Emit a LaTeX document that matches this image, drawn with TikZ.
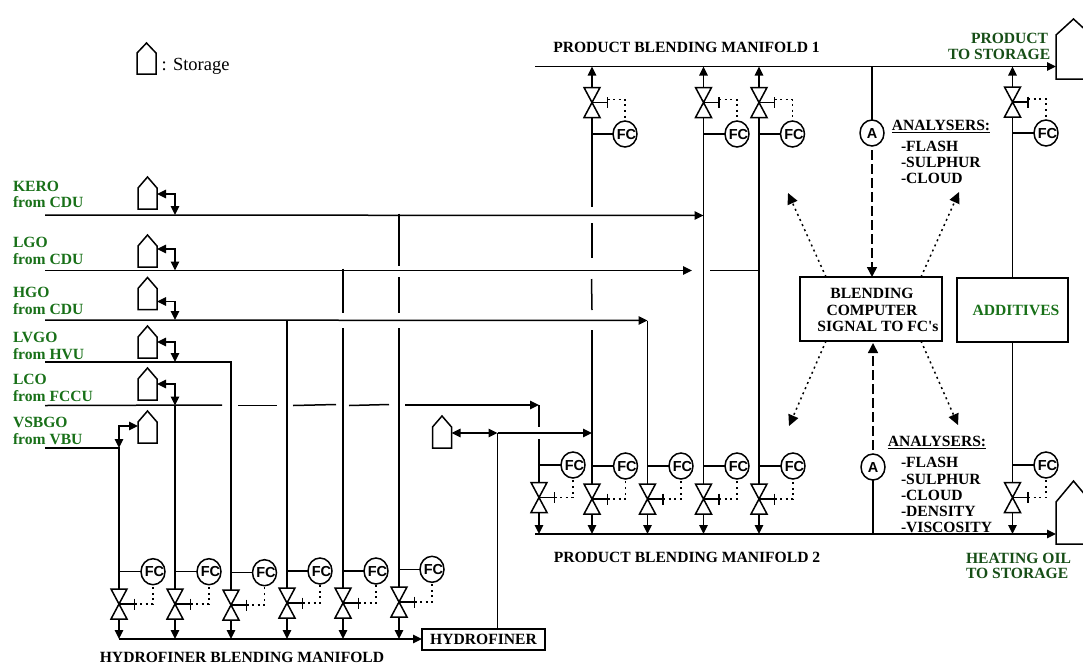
\documentclass[tikz,border=0pt]{standalone}
\usepackage{fontspec}
\setmainfont{Liberation Serif}
\setsansfont{Liberation Sans}
\usetikzlibrary{arrows.meta,shapes.geometric,calc}
\definecolor{feedgreen}{RGB}{24,112,24}
\definecolor{prodgreen}{RGB}{22,78,22}
\tikzset{
  pipe/.style={line width=1.5pt},
  arr/.style={pipe,-{Triangle[length=9pt,width=8.5pt]}},
  dbl/.style={pipe,{Triangle[length=9pt,width=8.5pt]}-{Triangle[length=9pt,width=8.5pt]}},
  sigdot/.style={line width=1.5pt,dash pattern=on 2pt off 3.6pt},
  sigdotarr/.style={sigdot,-{Triangle[length=11pt,width=10.5pt]}},
  sigdash/.style={line width=1.5pt,dash pattern=on 10pt off 4pt,-{Triangle[length=10pt,width=10pt]}},
  ctrl/.style={draw,ellipse,line width=1.5pt,minimum width=24pt,minimum height=26pt,inner sep=0pt,outer sep=0pt,
     font=\sffamily\bfseries\fontsize{14.5}{14.5}\selectfont},
  valvebody/.style={minimum width=16pt,minimum height=30pt,inner sep=0pt,outer sep=0pt},
  tankbody/.style={inner sep=0pt,outer sep=0pt},
  lbl/.style={inner sep=0pt,outer sep=0pt,font=\bfseries\fontsize{15.6}{16.6}\selectfont},
  feed/.style={lbl,text=feedgreen,align=left,anchor=west},
  prod/.style={lbl,text=prodgreen,anchor=west},
  block/.style={draw,line width=1.6pt,inner sep=0pt,outer sep=0pt},
}
\newcounter{segn}
\newcommand{\pipeseg}[2]{\stepcounter{segn}\coordinate (sa\thesegn) at (#1);\coordinate (sb\thesegn) at (#2);\draw[pipe] (sa\thesegn) -- (sb\thesegn);}
\newcommand{\ctrltext}[2]{\smash{\raisebox{-0.36em}{\makebox[0pt]{\hspace{#1}#2}}}}
% tank: id, centre x, top y, width, height, shoulder drop
\newcommand{\tank}[6]{%
  \node[tankbody,minimum width=#4pt,minimum height=#5pt] (#1) at (#2,#3+#5/2) {};
  \draw[pipe,line join=miter] (#1.south west) -- (#1.south east) -- ($(#1.north east)+(0,#6)$) -- (#1.north) -- ($(#1.north west)+(0,#6)$) -- cycle;}
% common control unit: id, x, fc x, fc y, valve y
\newcommand{\unitcore}[5]{%
  \node[ctrl] (#1f) at (#3,#4) {\ctrltext{3pt}{FC}};
  \node[valvebody] (#1v) at (#2,#5) {};
  \coordinate (#1b) at (#2+15.5,#5);
  \draw[pipe,line join=miter] (#1v.north west) -- (#1v.north east) -- (#1v.south west) -- (#1v.south east) -- cycle;
  \draw[pipe] (#1v.center) -- (#1b);
  \draw[pipe] ($(#1b)+(0,-5.5)$) -- ($(#1b)+(0,5.5)$);
  \draw[pipe] (#1v.north |- #1f.west) -- (#1f.west);}
% flow downwards into a manifold coordinate
\newcommand{\lowunit}[6]{\unitcore{#1}{#2}{#3}{#4}{#5}
  \draw[sigdot] (#1b) -| (#1f.south);
  \draw[arr] (#1v.south) -- (#1v.south |- #6);}
% flow upwards into a manifold coordinate
\newcommand{\upunit}[6]{\unitcore{#1}{#2}{#3}{#4}{#5}
  \draw[sigdot] ($(#1b)+(0,-3)$) -| (#1f.north);
  \draw[arr] (#1v.north) -- (#1v.north |- #6);}
\begin{document}
\begin{tikzpicture}[x=1pt,y=-1pt]
\useasboundingbox (0,0) rectangle (1083,664);
\clip (0,0) rectangle (1083,664);

% legend
\tank{legend}{146.5}{43}{19}{31}{10}
\node[inner sep=0pt,anchor=west,font=\fontsize{18.5}{20}\selectfont] (legendtext) at (161.5,66.5) {: Storage};

% main coordinates
\coordinate (mOneL) at (535,66.5);
\coordinate (mTwoL) at (535,534);
\coordinate (mHf) at (119,639);

% big storages
\tank{sp}{1073.5}{19}{35}{60}{16}
\tank{sh}{1073.5}{481}{35}{63}{21}
\draw[arr] (mOneL) -- (sp.west |- mOneL);
\draw[arr] (mTwoL) -- (sh.west |- mTwoL);

% feed lines and feed storages
\node[feed] (lkero) at (13,194.5) {KERO\\from CDU};
\node[feed] (llgo) at (13,251) {LGO\\from CDU};
\node[feed] (lhgo) at (13,301) {HGO\\from CDU};
\node[feed] (llvgo) at (13,346) {LVGO\\from HVU};
\node[feed] (llco) at (13,388) {LCO\\from FCCU};
\node[feed] (lvsb) at (13,431) {VSBGO\\from VBU};

\tank{tkero}{147.5}{177}{19}{32}{11}
\tank{tlgo}{147.5}{235}{19}{32}{11}
\tank{thgo}{147.5}{277.5}{19}{32}{11}
\tank{tlvgo}{147.5}{326}{19}{32}{11}
\tank{tlco}{147.5}{368}{19}{32}{11}
\tank{tvsb}{147.5}{411}{19}{32}{11}
\tank{thf}{442}{416}{19}{32}{11}

\coordinate (jkero) at (175,215);
\coordinate (jlgo) at (175,270.5);
\coordinate (jhgo) at (175,320);
\coordinate (jlvgo) at (175,362);
\coordinate (jlco) at (175,405.5);
\coordinate (jvsb) at (119,448);
\draw[dbl] ($(tkero.south east)+(0,-15)$) -| (jkero);
\draw[dbl] ($(tlgo.south east)+(0,-18)$) -| (jlgo);
\draw[dbl] ($(thgo.south east)+(0,-8)$) -| (jhgo);
\draw[dbl] ($(tlvgo.south east)+(0,-16)$) -| (jlvgo);
\draw[dbl] ($(tlco.south east)+(0,-16)$) -| (jlco);
\draw[dbl] ($(tvsb.south west)+(0,-17)$) -| (jvsb);

% hydrofiner row
\lowunit{hA}{119}{153}{571.7}{604}{mHf}
\lowunit{hB}{175}{209}{571.7}{604}{mHf}
\lowunit{hC}{231}{264.5}{572.7}{605}{mHf}
\lowunit{hD}{287}{320}{571}{603}{mHf}
\lowunit{hE}{343}{376}{571}{603}{mHf}
\lowunit{hF}{399}{432}{569.3}{602}{mHf}
\node[block,minimum width=123pt,minimum height=21pt,font=\bfseries\fontsize{15.6}{16}\selectfont] (hydro) at (483.5,639.5) {HYDROFINER};
\draw[arr] (mHf) -- (hydro.west |- mHf);
\node[lbl] (thfm) at (242,657) {HYDROFINER BLENDING MANIFOLD};

% product row lower
\lowunit{lA}{539}{573}{465}{497.5}{mTwoL}
\lowunit{lB}{592}{625.5}{466}{499}{mTwoL}
\lowunit{lC}{647.5}{681}{466}{499}{mTwoL}
\lowunit{lD}{703.5}{737}{466}{499}{mTwoL}
\lowunit{lE}{759}{793}{466}{499}{mTwoL}
\lowunit{lF}{1012.5}{1046}{465}{497.5}{mTwoL}

% product row upper
\upunit{uA}{592}{625}{134}{102.5}{mOneL}
\upunit{uB}{703.5}{737}{134}{102.5}{mOneL}
\upunit{uC}{759}{792.5}{134}{102.5}{mOneL}
\upunit{uD}{1012.5}{1046}{133}{102}{mOneL}

% feed mains
\coordinate (e119) at (45,448);
\draw[pipe] (e119) -- (jvsb) -- (hAv.north);
\draw[pipe] (jlco) -- (hBv.north);
\coordinate (elvgo) at (45,362);
\draw[pipe] (elvgo) -| (hCv.north);
\coordinate (ehgo) at (45,320);
\coordinate (thgoend) at (647.5,320.5);
\draw[arr] (ehgo) -- (thgoend);
\coordinate (tlgoend) at (692,270.5);
\coordinate (elgo) at (45,270.5);
\draw[arr] (elgo) -- (tlgoend);
\coordinate (ekero) at (45,215);
\coordinate (tkeroend) at (703.5,215.5);
\draw[arr] (ekero) -- (tkeroend);
\pipeseg{710,270.5}{759,270.5}

% LCO line with its breaks
\pipeseg{45,405.5}{222,405}
\pipeseg{293,405.5}{336,404.5}
\pipeseg{238,405.5}{277,405.5}
\pipeseg{349,405.5}{389,404.5}
\coordinate (lcoS) at (405,405);
\coordinate (lcoE) at (539,405);
\draw[arr] (lcoS) -- (lcoE);

% verticals from feeds down to hydrofiner row
\coordinate (jhgoD) at (287,320);
\draw[pipe] (jhgoD) -- (hDv.north);
\pipeseg{343,268.5}{343,313}
\pipeseg{343,328}{hEv.north}
\pipeseg{399,213.5}{399,266}
\pipeseg{399,277}{399,313}
\pipeseg{399,328}{hFv.north}

% verticals of the product rows
\pipeseg{539,405}{539,427}
\pipeseg{539,439}{lAv.north}
\pipeseg{uAv.south}{592,207}
\pipeseg{592,223}{592,258}
\pipeseg{591.5,279}{592,310}
\pipeseg{592,330}{lBv.north}
\draw[pipe] (thgoend) -- (lCv.north);
\draw[pipe] (uBv.south) -- (lDv.north);
\draw[pipe] (uCv.south) -- (lEv.north);

% hydrofiner product to manifolds
\coordinate (jh) at (497.5,433);
\coordinate (jhv) at (592,433);
\draw[dbl] (thf.east |- jh) -- (jh);
\draw[arr] (jh) -- (jhv);
\draw[pipe] (jh) -- (jh |- hydro.north);

% computer and additives
\node[block,minimum width=142pt,minimum height=64pt] (comp) at (871,309) {};
\node[lbl] (comp1) at (872,293) {BLENDING};
\node[lbl] (comp2) at (872,310) {COMPUTER};
\node[lbl] (comp3) at (878,326) {SIGNAL TO FC\textquotesingle s};
\node[block,minimum width=111pt,minimum height=64pt] (addb) at (1012.5,310) {};
\node[lbl,text=feedgreen] (addt) at (1016,310) {ADDITIVES};
\draw[pipe] (uDv.south) -- (addb.north);
\draw[pipe] (addb.south) -- (lFv.north);

% analysers
\node[ctrl] (aOne) at (872,133) {\ctrltext{0pt}{A}};
\node[ctrl] (aTwo) at (873,467) {\ctrltext{0pt}{A}};
\draw[pipe] (aOne.north) -- (aOne.north |- mOneL);
\draw[pipe] (aTwo.south) -- (aTwo.south |- mTwoL);
\draw[sigdash] ($(aOne.south)+(0,4)$) -- (aOne.south |- comp.north);
\draw[sigdash] ($(aTwo.north)+(0,-4)$) -- ($(aTwo.north |- comp.south)+(0,2)$);

\coordinate (pTL) at (788,193);
\coordinate (pTR) at (959,192);
\coordinate (pBL) at (789,426);
\coordinate (pBR) at (958,425);
\draw[sigdotarr] ($(comp.north west)+(26,0)$) -- (pTL);
\draw[sigdotarr] ($(comp.north west)+(121,0)$) -- (pTR);
\draw[sigdotarr] ($(comp.south west)+(26,0)$) -- (pBL);
\draw[sigdotarr] ($(comp.south west)+(121,0)$) -- (pBR);

\node[lbl] (anOne) at (941,125) {ANALYSERS:};
\draw[line width=1.5pt] ($(anOne.south west)+(0,2)$) -- ($(anOne.south east)+(0,2)$);
\node[lbl,anchor=west] (a11) at (901,146) {-FLASH};
\node[lbl,anchor=west] (a12) at (901,162) {-SULPHUR};
\node[lbl,anchor=west] (a13) at (901,178) {-CLOUD};
\node[lbl] (anTwo) at (937,441) {ANALYSERS:};
\draw[line width=1.5pt] ($(anTwo.south west)+(0,2)$) -- ($(anTwo.south east)+(0,2)$);
\node[lbl,anchor=west] (a21) at (901,462) {-FLASH};
\node[lbl,anchor=west] (a22) at (901,479) {-SULPHUR};
\node[lbl,anchor=west] (a23) at (901,495) {-CLOUD};
\node[lbl,anchor=west] (a24) at (901,511) {-DENSITY};
\node[lbl,anchor=west] (a25) at (901,527) {-VISCOSITY};

% manifold and product labels
\node[lbl] (tm1) at (686.5,47) {PRODUCT BLENDING MANIFOLD 1};
\node[lbl] (tm2) at (687,557) {PRODUCT BLENDING MANIFOLD 2};
\node[prod] (tp1) at (971,38) {PRODUCT};
\node[prod] (tp2) at (948,54) {TO STORAGE};
\node[prod] (th1) at (966,558) {HEATING OIL};
\node[prod] (th2) at (966,573.5) {TO STORAGE};
\end{tikzpicture}
\end{document}
